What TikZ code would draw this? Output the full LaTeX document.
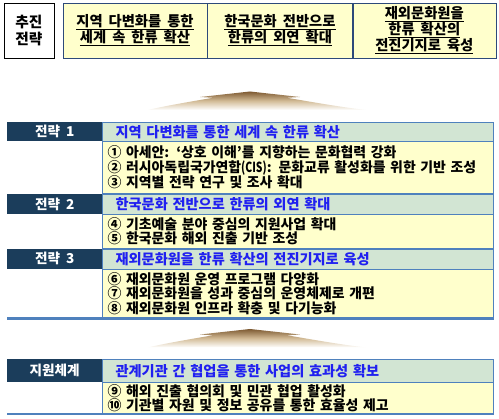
\documentclass[tikz,border=0pt]{standalone}
\usepackage{fontspec}
\setmainfont{Noto Sans CJK KR}
\usetikzlibrary{positioning}

\definecolor{tagblue}{HTML}{1B3D5B}
\definecolor{headgreen}{HTML}{D2E5D3}
\definecolor{itemyellow}{HTML}{FFFFCC}
\definecolor{lineblue}{HTML}{4F81BD}
\definecolor{headtext}{HTML}{2020F0}
\definecolor{topframe}{HTML}{2D4A7A}
\definecolor{glowbrown}{HTML}{7E5A32}
\definecolor{glowtan}{HTML}{D2BB96}

\newcommand\widespace{\spaceskip=6pt plus 1pt minus 1pt\relax}

\tikzset{
  goalbox/.style={draw=black, fill=white, inner sep=0pt, align=center,
    font=\bfseries\fontsize{14.7}{17}\selectfont},
  colbox/.style={draw=topframe, fill=itemyellow, inner sep=0pt, align=center,
    minimum height=55pt, font=\bfseries\fontsize{14.3}{16}\selectfont\widespace},
  tagbar/.style={fill=tagblue, text=white, inner sep=0pt, minimum width=95pt,
    font=\bfseries\fontsize{13.6}{14.5}\selectfont\widespace},
  headbar/.style={draw=lineblue, fill=headgreen, text=headtext, inner ysep=0pt,
    inner xsep=13pt, text width=365pt, align=left,
    font=\bfseries\fontsize{14.2}{15}\selectfont\widespace},
  itembox/.style={draw=lineblue, fill=itemyellow, inner ysep=0pt,
    inner xsep=5pt, text width=381pt, align=left,
    font=\bfseries\fontsize{13.9}{14.5}\selectfont\widespace},
  thickrule/.style={draw=lineblue, line width=2.5pt},
  upglow/.style={top color=glowbrown, bottom color=white, middle color=glowtan}
}

\begin{document}
\begin{tikzpicture}[x=1pt,y=-1pt]
\useasboundingbox (0,0) rectangle (499,419);

% top row
\node [goalbox, minimum width=50pt, minimum height=55pt] (goal) at (29,30.5) {추진\\전략};
\node [colbox, minimum width=144pt] (col1) at (135,30.5)
  {\underline{지역 다변화를 통한}\\\underline{세계 속 한류 확산}};
\node [colbox, minimum width=145pt] (col2) [right=0pt of col1]
  {\underline{한국문화 전반으로}\\\underline{한류의 외연 확대}};
\node [colbox, minimum width=143pt] (col3) [right=0pt of col2]
  {\underline{재외문화원을}\\\underline{한류 확산의}\\\underline{전진기지로 육성}};

% arrows
\foreach \dy in {0,237.5}
  \shade [upglow, shift={(0,\dy)}] (250,91.5) -- (300,97) -- (287,97.8)
    .. controls (318,103) and (340,107) .. (366,110) -- (148,110)
    .. controls (160,107) and (182,103) .. (213,97.8) -- (200,97) -- cycle;

% strategies
\node [tagbar, minimum height=19pt, anchor=north west] (tag1) at (7,122) {전략 1};
\node [headbar, minimum height=19pt] (head1) [right=0pt of tag1] {지역 다변화를 통한 세계 속 한류 확산};
\node [itembox, minimum height=52pt] (item1) [below right=0pt and 0pt of head1.south west]
  {① 아세안: ‘상호 이해’를 지향하는 문화협력 강화\\
   \mbox{② 러시아독립국가연합\scalebox{0.75}[1]{(CIS)}: 문화교류 활성화를 위한 기반 조성}\\
   ③ 지역별 전략 연구 및 조사 확대};

\node [tagbar, minimum height=20pt] (tag2) [below left=0pt and 0pt of item1.south west] {전략 2};
\node [headbar, minimum height=20pt] (head2) [right=0pt of tag2] {한국문화 전반으로 한류의 외연 확대};
\node [itembox, minimum height=34pt] (item2) [below right=0pt and 0pt of head2.south west]
  {④ 기초예술 분야 중심의 지원사업 확대\\
   ⑤ 한국문화 해외 진출 기반 조성};

\node [tagbar, minimum height=20pt] (tag3) [below left=0pt and 0pt of item2.south west] {전략 3};
\node [headbar, minimum height=20pt] (head3) [right=0pt of tag3] {재외문화원을 한류 확산의 전진기지로 육성};
\node [itembox, minimum height=49pt] (item3) [below right=0pt and 0pt of head3.south west]
  {⑥ 재외문화원 운영 프로그램 다양화\\
   ⑦ 재외문화원을 성과 중심의 운영체제로 개편\\
   ⑧ 재외문화원 인프라 확충 및 다기능화};
\draw [thickrule] (item3.south west -| tag3.west) -- (item3.south east);

% support
\node [tagbar, minimum height=23pt, anchor=north west] (tag4) at (7,359) {지원체계};
\node [headbar, minimum height=23pt] (head4) [right=0pt of tag4] {관계기관 간 협업을 통한 사업의 효과성 확보};
\node [itembox, minimum height=31pt] (item4) [below right=0pt and 0pt of head4.south west]
  {⑨ 해외 진출 협의회 및 민관 협업 활성화\\
   ⑩ 기관별 자원 및 정보 공유를 통한 효율성 제고};
\draw [thickrule] (item4.south west -| tag4.west) -- (item4.south east);
\end{tikzpicture}
\end{document}
